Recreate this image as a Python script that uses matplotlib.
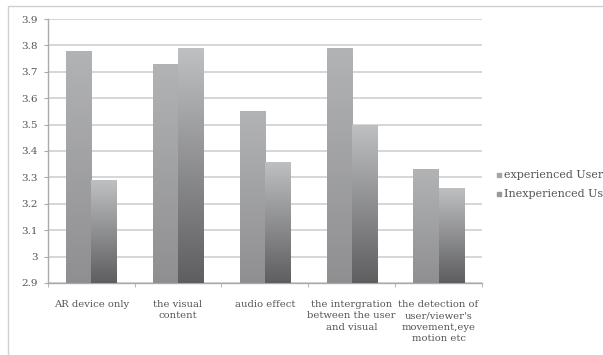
import matplotlib

matplotlib.use("Agg")
import matplotlib.pyplot as plt
import numpy as np
from matplotlib.colors import LinearSegmentedColormap
from matplotlib.patches import Rectangle

categories = [
    "AR device only",
    "the visual\ncontent",
    "audio effect",
    "the intergration\nbetween the user\nand visual",
    "the detection of\nuser/viewer's\nmovement,eye\nmotion etc",
]
experienced = [3.78, 3.73, 3.55, 3.79, 3.33]
inexperienced = [3.29, 3.79, 3.36, 3.50, 3.26]
series_names = ["experienced User", "Inexperienced User"]
yticks = [2.9, 3.0, 3.1, 3.2, 3.3, 3.4, 3.5, 3.6, 3.7, 3.8, 3.9]
ytick_labels = ["2.9", "3", "3.1", "3.2", "3.3", "3.4", "3.5", "3.6", "3.7", "3.8", "3.9"]

# vertical gradients (bottom -> top)
CM_EXP = LinearSegmentedColormap.from_list("exp", ["#8f8f91", "#b2b3b5"])
CM_INEXP = LinearSegmentedColormap.from_list("inexp", ["#5e5e60", "#bfc0c2"])
C_TEXT = "#555555"
C_GRID = "#cfcfcf"

plt.rcParams.update({
    "font.family": ["DejaVu Serif"],
    "font.size": 7.5,
})

fig = plt.figure(figsize=(6.03, 3.55), dpi=100)
# outer chart frame
fig.patches.append(Rectangle((8 / 603, -0.1), 1.2, (355 - 6) / 355 + 0.1,
                             transform=fig.transFigure, fill=False,
                             edgecolor="#d0d0d0", linewidth=1.0))
ax = fig.add_axes([47.7 / 603, 1 - 283 / 355, (482 - 47.7) / 603, 264 / 355])

x = np.arange(len(categories))
w = 0.29
y0 = yticks[0]


def grad_bars(xs, vals, cmap):
    bars = ax.bar(xs, np.array(vals) - y0, w, bottom=y0, color="none", zorder=3)
    grad = np.linspace(0, 1, 256).reshape(-1, 1)
    for b in bars:
        bx, by = b.get_x(), b.get_y()
        bw, bh = b.get_width(), b.get_height()
        im = ax.imshow(grad, cmap=cmap, origin="lower", aspect="auto",
                       extent=(bx, bx + bw, by, by + bh), zorder=3)
        im.set_clip_path(b)
    return bars


grad_bars(x - w / 2, experienced, CM_EXP)
grad_bars(x + w / 2, inexperienced, CM_INEXP)

ax.set_xlim(-0.5, len(categories) - 0.5)
ax.set_ylim(yticks[0], yticks[-1])
ax.set_yticks(yticks)
ax.set_yticklabels(ytick_labels, color=C_TEXT)
ax.yaxis.grid(True, color=C_GRID, linewidth=1.2)
ax.set_axisbelow(True)

ax.set_xticks(x)
ax.set_xticklabels(categories, color=C_TEXT, fontsize=7.2, linespacing=1.35)
ax.tick_params(axis="x", length=0, pad=12)
ax.set_xticks(np.arange(len(categories) + 1) - 0.5, minor=True)
ax.tick_params(axis="x", which="minor", length=3, color="#aaaaaa")
ax.tick_params(axis="y", length=3, color="#aaaaaa", pad=4)

for s in ("top", "right"):
    ax.spines[s].set_visible(False)
for s in ("left", "bottom"):
    ax.spines[s].set_color("#aaaaaa")
    ax.spines[s].set_linewidth(1.0)

# legend (cut at the right edge, as in the original)
for name, cmap in ((series_names[0], CM_EXP), (series_names[1], CM_INEXP)):
    ax.scatter([], [], marker="s", s=12, color=cmap(0.6), label=name)
leg = ax.legend(loc="center left", bbox_to_anchor=(1.003, 0.373), frameon=False,
                fontsize=8, handletextpad=0.0, handlelength=1.0,
                labelspacing=0.8, labelcolor=C_TEXT)

fig.savefig("out.png", dpi=100)
